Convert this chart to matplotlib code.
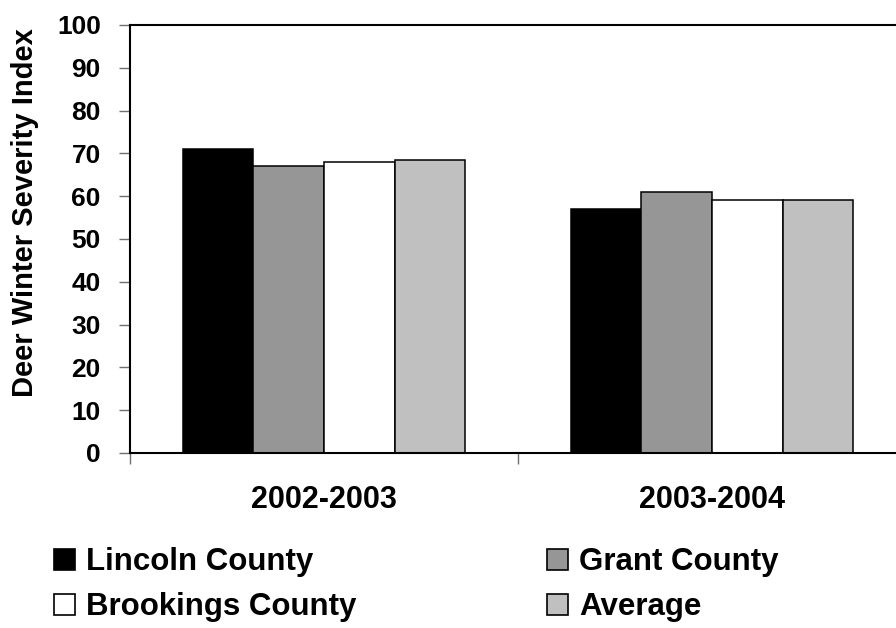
import matplotlib
matplotlib.use("Agg")
import matplotlib.pyplot as plt
from matplotlib.patches import Rectangle
import numpy as np

plt.rcParams['font.family'] = ['Liberation Sans', 'DejaVu Sans']
plt.rcParams['font.weight'] = 'bold'

categories = ["2002-2003", "2003-2004"]
series_names = ["Lincoln County", "Grant County", "Brookings County", "Average"]
series_values = [
    [71, 57],
    [67, 61],
    [68, 59],
    [68.5, 59],
]
series_colors = ["#000000", "#969696", "#ffffff", "#c0c0c0"]
y_ticks = [0, 10, 20, 30, 40, 50, 60, 70, 80, 90, 100]

W, H = 896, 628
fig = plt.figure(figsize=(W / 100, H / 100), dpi=100)
ax = fig.add_axes([130 / W, 1 - 453 / H, (906 - 130) / W, (453 - 25) / H])

x = np.arange(len(categories))
bw = 0.182
for i, (name, vals, col) in enumerate(zip(series_names, series_values, series_colors)):
    ax.bar(x + (i - 1.5) * bw, vals, width=bw, color=col, edgecolor='black',
           linewidth=1.1, label=name, zorder=2)

ax.set_xlim(-0.5, len(categories) - 0.5)
ax.set_ylim(0, 100)
ax.set_yticks(y_ticks)
ax.set_yticklabels([str(v) for v in y_ticks], fontsize=19, fontweight='bold')
ax.set_xticks(x)
ax.set_xticklabels(categories, fontsize=22, fontweight='bold')
ax.tick_params(axis='x', which='major', length=0, pad=23)
ax.set_xticks(np.arange(len(categories) + 1) - 0.5, minor=True)
ax.tick_params(axis='x', which='minor', length=8, width=1, color='#707070', direction='out')
ax.tick_params(axis='y', length=8, width=1, color='#707070', direction='out', pad=13)

for s in ['left', 'bottom', 'top', 'right']:
    ax.spines[s].set_linewidth(1.5)
    ax.spines[s].set_color('black')

fig.text(25 / W, 1 - 213 / H, "Deer Winter Severity Index", rotation=90,
         ha='center', va='center', fontsize=21, fontweight='bold')

# legend
col_x = [54, 547]
row_y = [549, 594]
for i, (name, col) in enumerate(zip(series_names, series_colors)):
    c, r = i % 2, i // 2
    x0 = col_x[c]
    y0 = row_y[r]
    fig.patches.append(Rectangle((x0 / W, 1 - (y0 + 21) / H), 21 / W, 21 / H,
                                 transform=fig.transFigure, facecolor=col,
                                 edgecolor='black', linewidth=1.2))
    fig.text((x0 + 32) / W, 1 - (y0 + 21) / H, name, ha='left', va='baseline',
             fontsize=22.5, fontweight='bold')

fig.savefig("out.png", dpi=100)
